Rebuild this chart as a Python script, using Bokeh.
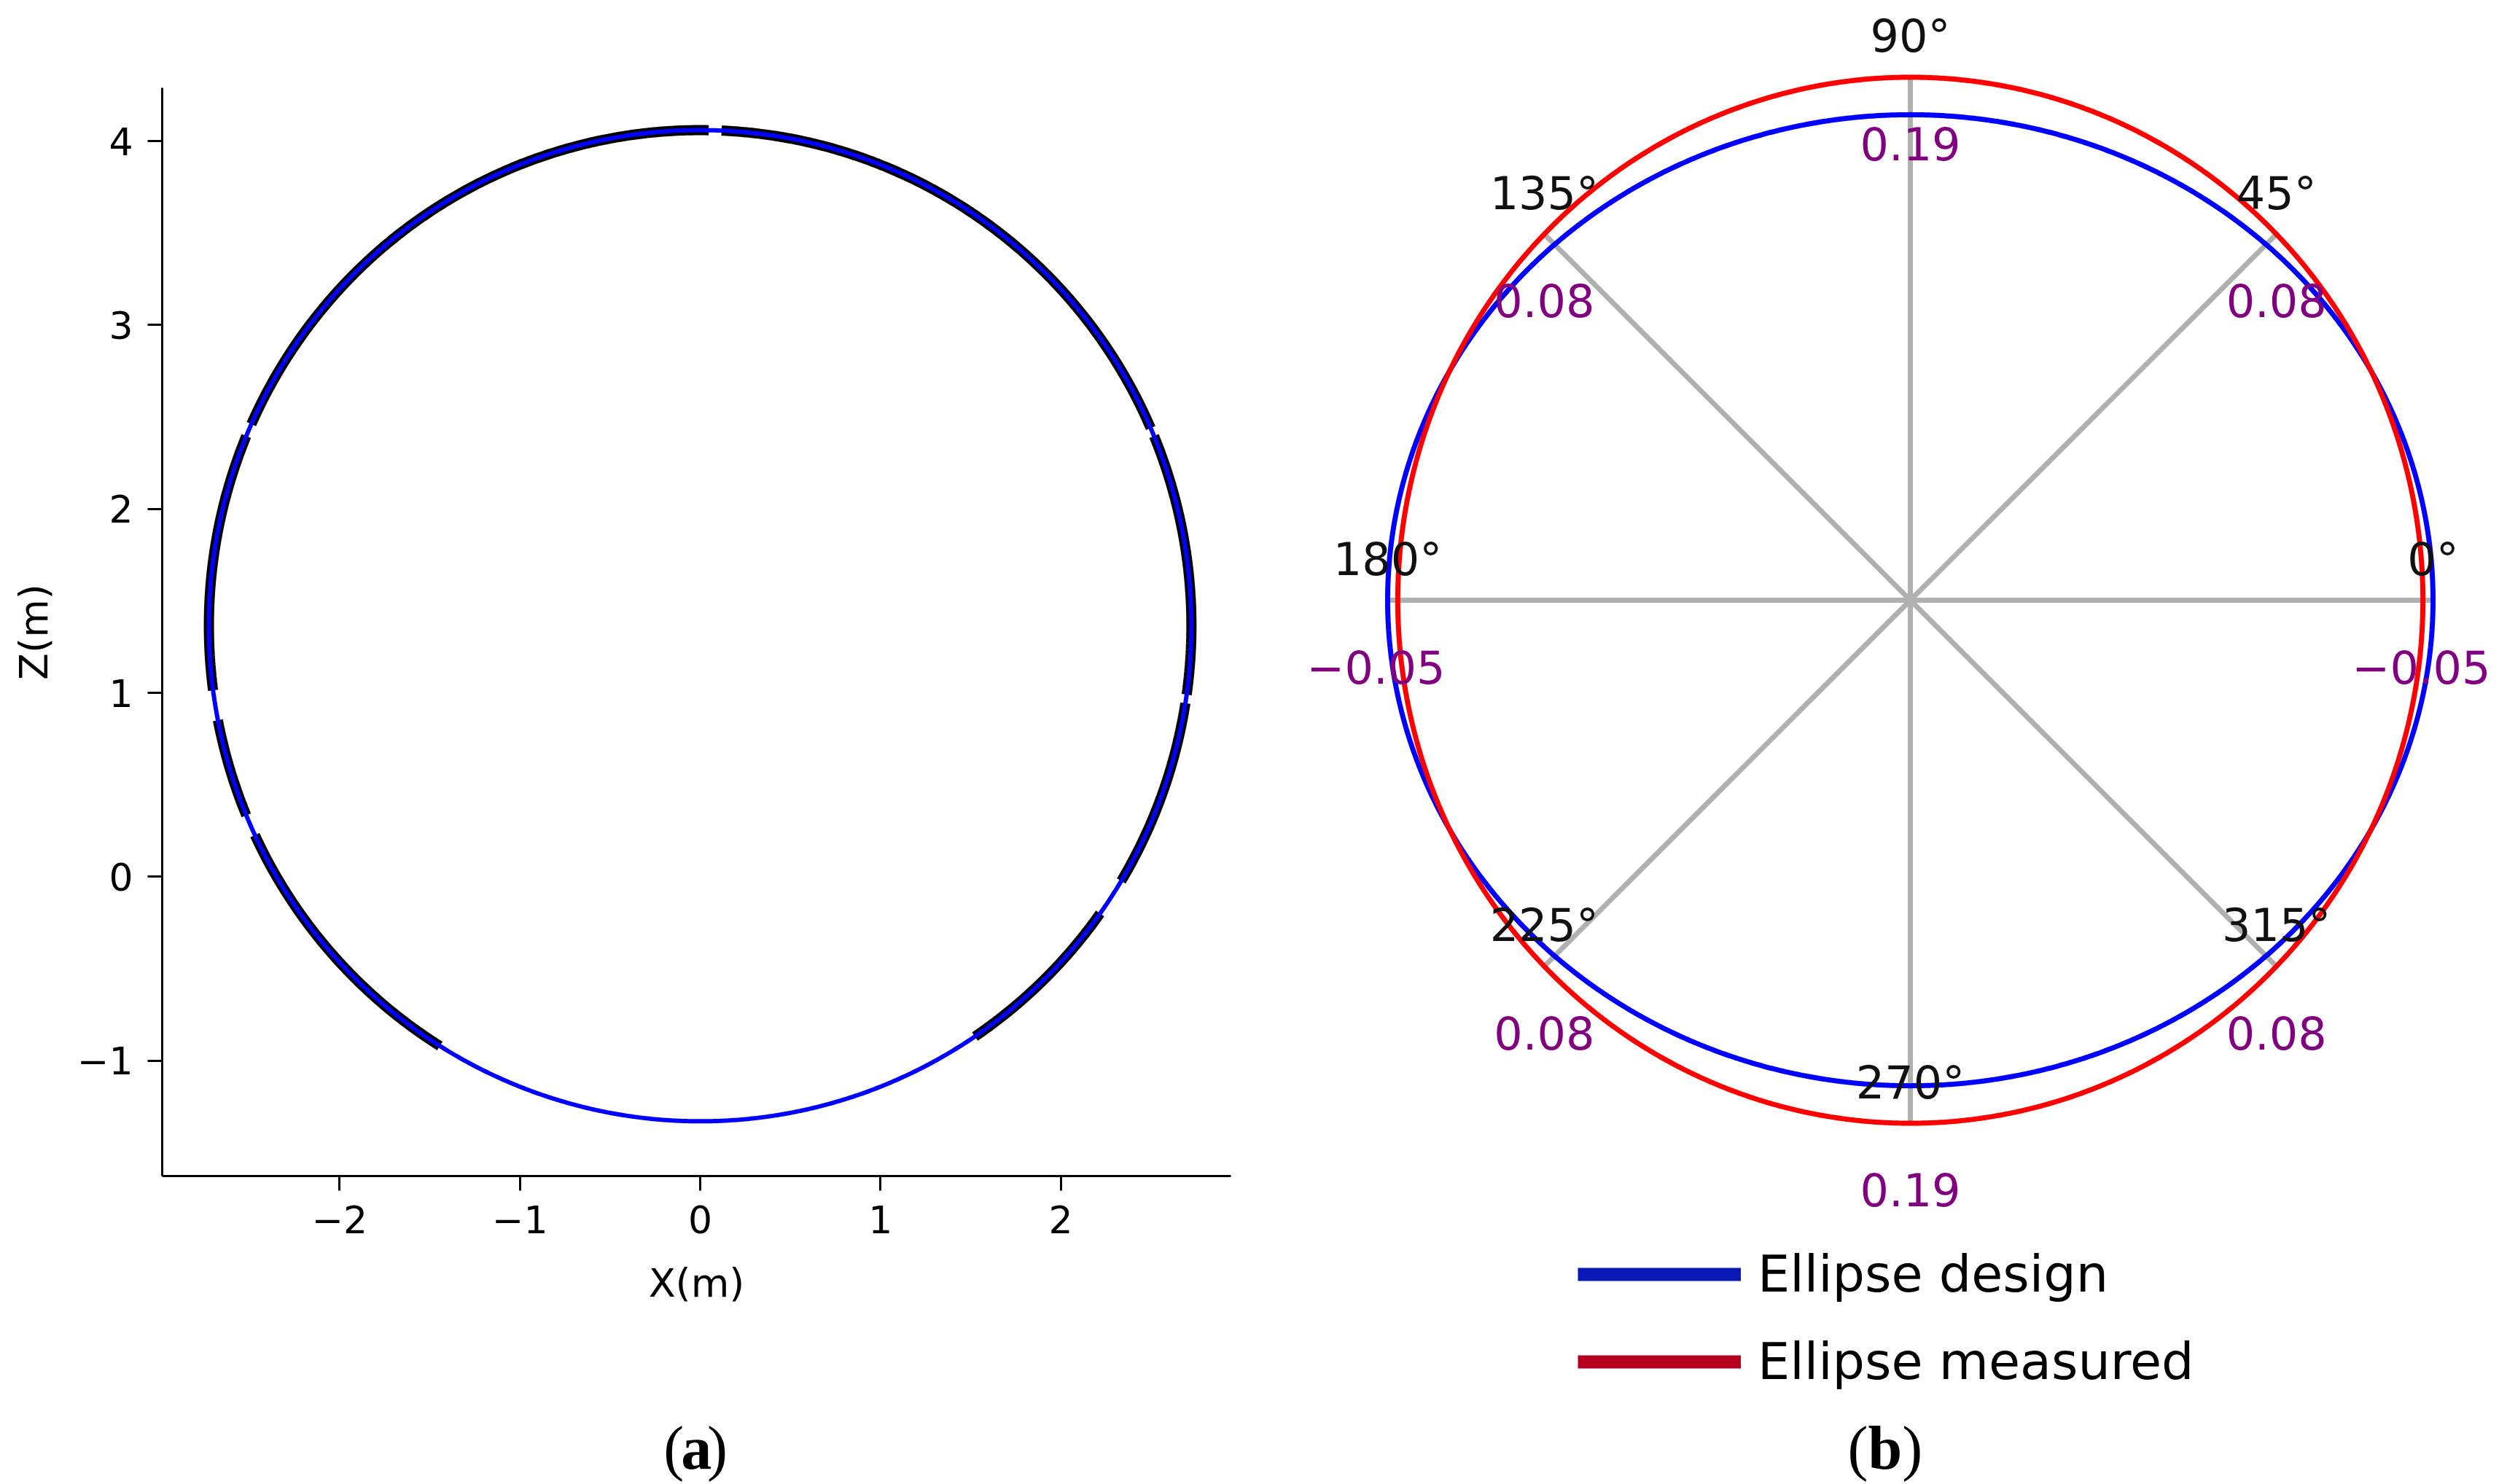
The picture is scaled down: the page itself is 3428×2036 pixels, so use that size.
import numpy as np
from bokeh.plotting import figure
from bokeh.layouts import row, column
from bokeh.models import ColumnDataSource, Range1d, Legend, LegendItem, FixedTicker
from bokeh.core.properties import value
from bokeh.embed import file_html
from bokeh.resources import INLINE

# ---------------- data: panel (a) ----------------
design_center_xz = [0.0, 1.365]          # ellipse centre (X, Z) in m
design_semi_axes_xz = [2.725, 2.695]     # semi-axes along X and Z in m
# angular extent (deg, parametric) of the measured point-cloud arcs
measured_arc_start = [-56.0, -31.0, -8.0, 23.5, 89.0, 157.5, 191.0, 205.0]
measured_arc_end = [-35.5, -9.0, 22.5, 87.5, 156.0, 187.5, 202.5, 238.0]
x_ticks = [-2, -1, 0, 1, 2]
z_ticks = [-1, 0, 1, 2, 3, 4]

# ---------------- data: panel (b) ----------------
design_semi_axes = [2.636, 2.449]        # Ellipse design (horizontal, vertical)
measured_semi_axes = [2.585, 2.638]      # Ellipse measured (horizontal, vertical)
angles_deg = [0, 45, 90, 135, 180, 225, 270, 315]
angle_labels = ["0°", "45°", "90°", "135°", "180°", "225°", "270°", "315°"]
deviation_labels = ["−0.05", "0.08", "0.19", "0.08", "−0.05", "0.08", "0.19", "0.08"]
series_names = ["Ellipse design", "Ellipse measured"]

FONT = "DejaVu Sans"
SERIF = "Liberation Serif"
CAP_SIZE = 84


def caption(p, left, mid, letter, px_per_unit, size=CAP_SIZE):
    """Draw '(letter)' with a bold letter; left/mid in data units."""
    w_par = 0.333 * size / px_per_unit
    w_let = (0.5 if letter == "a" else 0.556) * size / px_per_unit
    parts = [("(", left, "normal"), (letter, left + w_par, "bold"), (")", left + w_par + w_let, "normal")]
    for txt, x, style in parts:
        p.text(x=[x], y=[mid], text=[txt], text_font=value(SERIF), text_font_size=f"{size}px",
               text_font_style=style, text_align="left", text_baseline="middle", text_color="black")


# ================= panel (a) =================
W_A, H_A = 1718, 1878
pa = figure(width=W_A, height=H_A, output_backend="svg", toolbar_location=None,
            x_range=Range1d(-2.984, 2.944), y_range=Range1d(-1.628, 4.29),
            min_border_left=222, min_border_right=30, min_border_top=120, min_border_bottom=265)
pa.grid.visible = False
pa.outline_line_color = None
pa.xaxis.ticker = FixedTicker(ticks=x_ticks)
pa.yaxis.ticker = FixedTicker(ticks=z_ticks)
pa.xaxis.major_label_overrides = {t: (str(t).replace("-", "−")) for t in x_ticks}
pa.yaxis.major_label_overrides = {t: (str(t).replace("-", "−")) for t in z_ticks}
pa.xaxis.axis_label = "X(m)"
pa.yaxis.axis_label = "Z(m)"
for ax in (pa.xaxis[0], pa.yaxis[0]):
    ax.axis_line_width = 3
    ax.axis_line_color = "black"
    ax.major_tick_line_width = 3
    ax.major_tick_out = 20
    ax.major_tick_in = 0
    ax.minor_tick_line_color = None
    ax.major_label_text_font = FONT
    ax.major_label_text_font_size = "52px"
    ax.major_label_text_color = "black"
    ax.axis_label_text_font = FONT
    ax.axis_label_text_font_size = "54px"
    ax.axis_label_text_font_style = "normal"
    ax.axis_label_text_color = "black"
pa.xaxis.major_label_standoff = 20
pa.yaxis.major_label_standoff = 20
pa.xaxis.axis_label_standoff = 34
pa.yaxis.axis_label_standoff = 25

x0, z0 = design_center_xz
ra, rb = design_semi_axes_xz
arc_xs, arc_ys = [], []
for s, e in zip(measured_arc_start, measured_arc_end):
    tt = np.radians(np.linspace(s, e, 200))
    arc_xs.append(x0 + ra * np.cos(tt))
    arc_ys.append(z0 + rb * np.sin(tt))
pa.multi_line(xs=arc_xs, ys=arc_ys, line_color="black", line_width=14)
t = np.linspace(0, 2 * np.pi, 1441)
pa.line(x0 + ra * np.cos(t), z0 + rb * np.sin(t), line_color="#0000ff", line_width=6)

# caption figure for (a)
H_CA = 2036 - H_A
ca = figure(width=W_A, height=H_CA, output_backend="svg", toolbar_location=None,
            x_range=Range1d(0, W_A), y_range=Range1d(0, H_CA), min_border=0,
            x_axis_type=None, y_axis_type=None)
ca.grid.visible = False
ca.outline_line_color = None
caption(ca, 806, 2036 - 1986, "a", 1.0)

# ================= panel (b) =================
S = 272.0              # screen px per metre
W_B, H_B = 3428 - W_A, 2036
CX, CY = 2620 - W_A, 823   # centre of the polar diagram in figure px (from left / top)
pb = figure(width=W_B, height=H_B, output_backend="svg", toolbar_location=None,
            x_range=Range1d(-CX / S, (W_B - CX) / S), y_range=Range1d(-(H_B - CY) / S, CY / S),
            min_border=0, x_axis_type=None, y_axis_type=None)
pb.grid.visible = False
pb.outline_line_color = None


def ell_r(ab, th):
    a, b = ab
    return a * b / np.sqrt((b * np.cos(th)) ** 2 + (a * np.sin(th)) ** 2)


th8 = np.radians(angles_deg)
r_out = np.maximum(ell_r(design_semi_axes, th8), ell_r(measured_semi_axes, th8))
px8 = r_out * np.cos(th8)
py8 = r_out * np.sin(th8)
pb.segment(x0=np.zeros(8), y0=np.zeros(8), x1=px8, y1=py8, line_color="#b0b0b0", line_width=7)

th = np.linspace(0, 2 * np.pi, 1441)
rd = ell_r(design_semi_axes, th)
rm = ell_r(measured_semi_axes, th)
pb.line(rd * np.cos(th), rd * np.sin(th), line_color="#0000ff", line_width=7)
pb.line(rm * np.cos(th), rm * np.sin(th), line_color="#ff0000", line_width=7)

dev_shift = [-16 if s.startswith("−") else 0 for s in deviation_labels]
lab = ColumnDataSource(dict(x=px8, y=py8, ang=angle_labels, dev=deviation_labels, dx=dev_shift))
pb.text(x="x", y="y", text="ang", source=lab, y_offset=-56, text_align="center", text_baseline="middle",
        text_font=value(FONT), text_font_size="62px", text_color="#111111")
pb.text(x="x", y="y", text="dev", source=lab, x_offset="dx", y_offset=91, text_align="center",
        text_baseline="middle", text_font=value(FONT), text_font_size="62px", text_color="#800080")

leg_d = pb.line([np.nan], [np.nan], line_color="#0a18b4", line_width=18)
leg_m = pb.line([np.nan], [np.nan], line_color="#b4001c", line_width=18)
legend = Legend(items=[LegendItem(label=series_names[0], renderers=[leg_d]),
                       LegendItem(label=series_names[1], renderers=[leg_m])],
                location=(2164 - W_A, 127), glyph_width=224, glyph_height=20, label_standoff=23,
                label_text_font=FONT, label_text_font_size="70px", label_text_color="black",
                spacing=38, padding=0, margin=0,
                border_line_color=None, background_fill_alpha=0)
pb.add_layout(legend)

caption(pb, (2534 - 2620) / S, (823 - 1986) / S, "b", S)

layout = row(column(pa, ca), pb)
open("out.html", "w").write(file_html(layout, INLINE))
